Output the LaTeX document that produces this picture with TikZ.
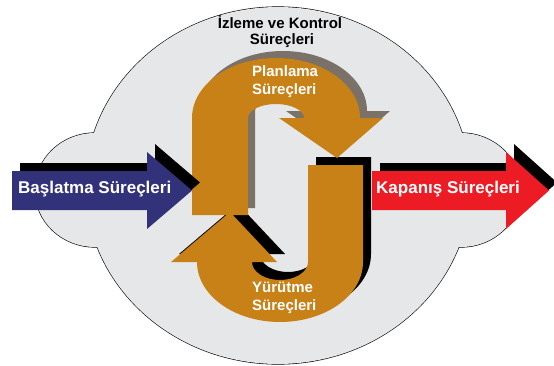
\documentclass[tikz,border=0pt]{standalone}
\usepackage{fontspec}
\setmainfont{Liberation Sans}
\definecolor{cloudgray}{RGB}{230,231,232}
\definecolor{procorange}{RGB}{200,129,22}
\definecolor{shadowgray}{RGB}{122,114,105}
\definecolor{startblue}{RGB}{50,50,122}
\definecolor{closered}{RGB}{237,28,36}
\begin{document}
\begin{tikzpicture}[x=1pt,y=1pt,
  bigtext/.style={inner sep=0pt,font=\fontsize{17}{20}\selectfont\bfseries},
  smalltext/.style={inner sep=0pt,font=\fontsize{15}{18}\selectfont\bfseries}]
\useasboundingbox (0,0) rectangle (554,365);

% cloud: outline of the three lobes, then the fill laid over the inner strokes
\path[draw=black,line width=1.2pt,fill=cloudgray]
  (278,179.5) ellipse[x radius=192.5,y radius=178.5]
  (95,175) ellipse[x radius=60,y radius=57]
  (461,175) ellipse[x radius=60,y radius=57];
\fill[cloudgray]
  (278,179.5) ellipse[x radius=192.5,y radius=178.5]
  (95,175) ellipse[x radius=60,y radius=57]
  (461,175) ellipse[x radius=60,y radius=57];

\node[smalltext,anchor=base] (mon1) at (280,336) {İzleme ve Kontrol};
\node[smalltext,anchor=base] (mon2) at (282,320) {Süreçleri};

% execution loop (J shape) with its black shadow
\foreach \d/\col in {8/black,0/procorange}{
  \fill[\col,shift={(\d,\d)}]
    (363,200) -- (363,103) arc[start angle=0,end angle=-180,x radius=83,y radius=60]
    -- (171,103) -- (230,153) -- (277,103) -- (252,103)
    arc[start angle=180,end angle=360,x radius=28,y radius=18]
    -- (308,200) -- cycle;
}

% planning loop with its grey shadow
\foreach \d/\col in {7/shadowgray,0/procorange}{
  \fill[\col,shift={(\d,\d)}]
    (192,150) -- (192,247) arc[start angle=180,end angle=0,x radius=84,y radius=60]
    -- (383,247) -- (337,207) -- (279,247) -- (304,247)
    arc[start angle=0,end angle=180,x radius=28,y radius=14]
    -- (248,150) -- cycle;
}

\node[smalltext,text=white,anchor=base west] (plan1) at (252,288.3) {Planlama};
\node[smalltext,text=white,anchor=base west] (plan2) at (252,270) {Süreçleri};
\node[smalltext,text=white,anchor=base west] (exec1) at (252,73) {Yürütme};
\node[smalltext,text=white,anchor=base west] (exec2) at (252,55) {Süreçleri};

% initiating and closing arrows
\foreach \d/\col in {8/black,0/startblue}{
  \fill[\col,shift={(\d,\d)}]
    (12,155) -- (147,155) -- (147,136) -- (192,174.5) -- (147,213) -- (147,194) -- (12,194) -- cycle;
}
\foreach \d/\col in {8/black,0/closered}{
  \fill[\col,shift={(\d,\d)}]
    (372,155) -- (506,155) -- (506,136) -- (549,174.5) -- (506,213) -- (506,194) -- (372,194) -- cycle;
}

\node[bigtext,text=white,anchor=base west] (start) at (18,172) {Başlatma Süreçleri};
\node[bigtext,text=white,anchor=base west] (close) at (376,172) {Kapanış Süreçleri};
\end{tikzpicture}
\end{document}
